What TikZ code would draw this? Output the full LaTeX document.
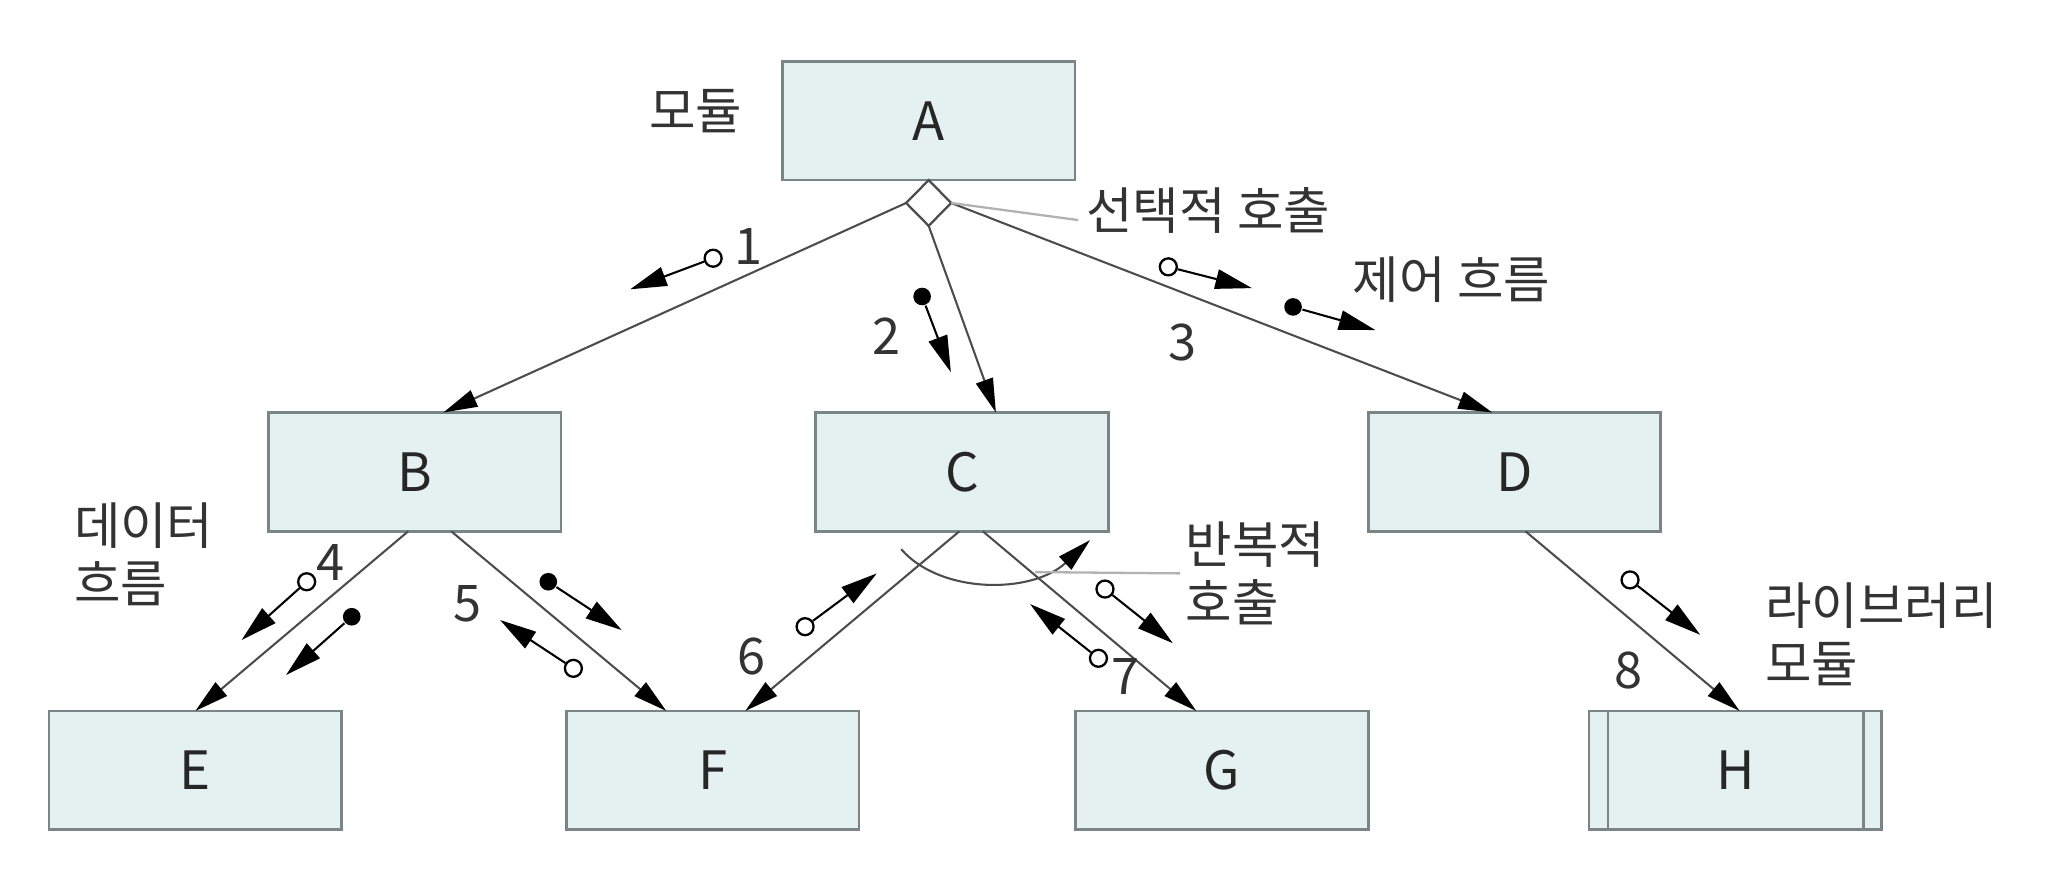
\documentclass[tikz,border=0pt]{standalone}
\usepackage{fontspec}
\setmainfont{Noto Sans CJK KR}
\usetikzlibrary{shapes.geometric, arrows.meta, positioning, calc}
\definecolor{boxfill}{HTML}{E5F1F1}
\definecolor{boxgray}{HTML}{7A8585}
\definecolor{edgegray}{HTML}{4D4D4D}

\begin{document}
\begin{tikzpicture}[x=0.1mm, y=-0.1mm,
    modbox/.style={rectangle, draw=boxgray, fill=boxfill, line width=0.6pt,
        minimum width=22.4mm, minimum height=9.1mm, inner sep=0pt, outer sep=0pt,
        font=\fontsize{11.5}{13}\selectfont, text=black!85},
    selbox/.style={diamond, draw=edgegray, fill=white, line width=0.5pt,
        minimum width=3.45mm, minimum height=3.5mm, inner sep=0pt, outer sep=0pt},
    arr/.style={-{Triangle[length=2.6mm, width=1.35mm, color=black]}, line width=0.45pt, black!70},
    flow/.style={-{Triangle[length=2.8mm, width=1.5mm]}, line width=0.45pt, black},
    odot/.style={circle, draw=black, fill=white, line width=0.5pt, minimum size=1.3mm, inner sep=0pt},
    fdot/.style={circle, fill=black, minimum size=1.35mm, inner sep=0pt},
    num/.style={font=\fontsize{11}{12}\selectfont, text=black!80},
    note/.style={font=\fontsize{11}{12.6}\selectfont, text=black!80, align=left, anchor=west, inner sep=1pt},
    lead/.style={line width=0.5pt, black!30},
]
\useasboundingbox (0,0) rectangle (1568,669);

% Top module and selection diamond
\node[modbox] (A) at (711,92.4) {A};
\node[selbox, below=0pt of A] (S) {};

% Second level
\node[modbox] (B) at (317.5,361.3) {B};
\node[modbox, right=19.5mm of B] (C) {C};
\node[modbox, right=19.9mm of C] (D) {D};

% Third level
\node[modbox] (E) at (149.6,589.8) {E};
\node[modbox, right=17.2mm of E] (F) {F};
\node[modbox, right=16.6mm of F] (G) {G};
\node[modbox, right=16.9mm of G] (H) {H};
\draw[draw=boxgray, line width=0.6pt] ([xshift=1.45mm]H.north west) -- ([xshift=1.45mm]H.south west);
\draw[draw=boxgray, line width=0.6pt] ([xshift=-1.4mm]H.north east) -- ([xshift=-1.4mm]H.south east);

% Calls
\draw[arr] (S.west) -- ($(B.north)+(22,0)$);
\draw[arr] (S.south) -- ($(C.north)+(26,0)$);
\draw[arr] (S.east) -- ($(D.north)+(-17,0)$);
\draw[arr] ($(B.south)+(-5,0)$) -- (E.north);
\draw[arr] ($(B.south)+(28,0)$) -- ($(F.north)+(-35.5,0)$);
\draw[arr] ($(C.south)+(-2,0)$) -- ($(F.north)+(25,0)$);
\draw[arr] ($(C.south)+(16,0)$) -- ($(G.north)+(-19.7,0)$);
\draw[arr] ($(D.south)+(8.5,0)$) -- ($(H.north)+(3.3,0)$);

% Loop (repeated call)
\coordinate (loopS) at (690,420.5);
\coordinate (loopE) at (834.6,413.5);
\draw[arr] (loopS) .. controls (720,455) and (790,455) .. (loopE);

% Call numbers
\node[num] (n1) at (573,189) {1};
\node[num] (n2) at (679,257) {2};
\node[num] (n3) at (905,262) {3};
\node[num] (n4) at (252.7,431) {4};
\node[num] (n5) at (357.8,462) {5};
\node[num] (n6) at (575.5,502.8) {6};
\node[num] (n7) at (861.4,518) {7};
\node[num] (n8) at (1246.6,513) {8};

% Data and control flows
\node[odot] (o1) at (546,197.7) {};
\coordinate (t1) at (482.5,221.5);
\draw[flow] (o1) -- (t1);
\node[fdot] (o2) at (706,227) {};
\coordinate (t2) at (728,285);
\draw[flow] (o2) -- (t2);
\node[odot] (o3a) at (894.5,204.3) {};
\coordinate (t3a) at (958.5,220.6);
\draw[flow] (o3a) -- (t3a);
\node[fdot] (o3b) at (990,235) {};
\coordinate (t3b) at (1053,252.7);
\draw[flow] (o3b) -- (t3b);
\node[odot] (o4a) at (234.8,445.4) {};
\coordinate (t4a) at (185,490);
\draw[flow] (o4a) -- (t4a);
\node[fdot] (o4b) at (269.3,472.2) {};
\coordinate (t4b) at (219,516.8);
\draw[flow] (o4b) -- (t4b);
\node[fdot] (o5a) at (419.8,445.4) {};
\coordinate (t5a) at (476,482.4);
\draw[flow] (o5a) -- (t5a);
\node[odot] (o5b) at (439,511.7) {};
\coordinate (t5b) at (382.9,474.7);
\draw[flow] (o5b) -- (t5b);
\node[odot] (o6) at (616.4,479.8) {};
\coordinate (t6) at (671.3,439);
\draw[flow] (o6) -- (t6);
\node[odot] (o7a) at (846,451) {};
\coordinate (t7a) at (898,492.5);
\draw[flow] (o7a) -- (t7a);
\node[odot] (o7b) at (841,504) {};
\coordinate (t7b) at (788.7,462.5);
\draw[flow] (o7b) -- (t7b);
\node[odot] (o8) at (1248,444) {};
\coordinate (t8) at (1301.7,486);
\draw[flow] (o8) -- (t8);

% Notes
\node[note] (lmod) at (493,85) {모듈};
\node[note] (lsel) at (827.5,161) {선택적 호출};
\node[note] (lctl) at (1031.5,214) {제어 흐름};
\node[note] (ldat) at (52.5,424.5) {데이터\\흐름};
\node[note] (lrep) at (903.5,439) {반복적\\호출};
\node[note] (llib) at (1347.5,485.7) {라이브러리\\모듈};

% Leader lines
\draw[lead] (S.east) -- ($(lsel.west)+(-2,7.5)$);
\coordinate (repL) at (792.5,438);
\draw[lead] (repL) -- (lrep.west);
\end{tikzpicture}
\end{document}
